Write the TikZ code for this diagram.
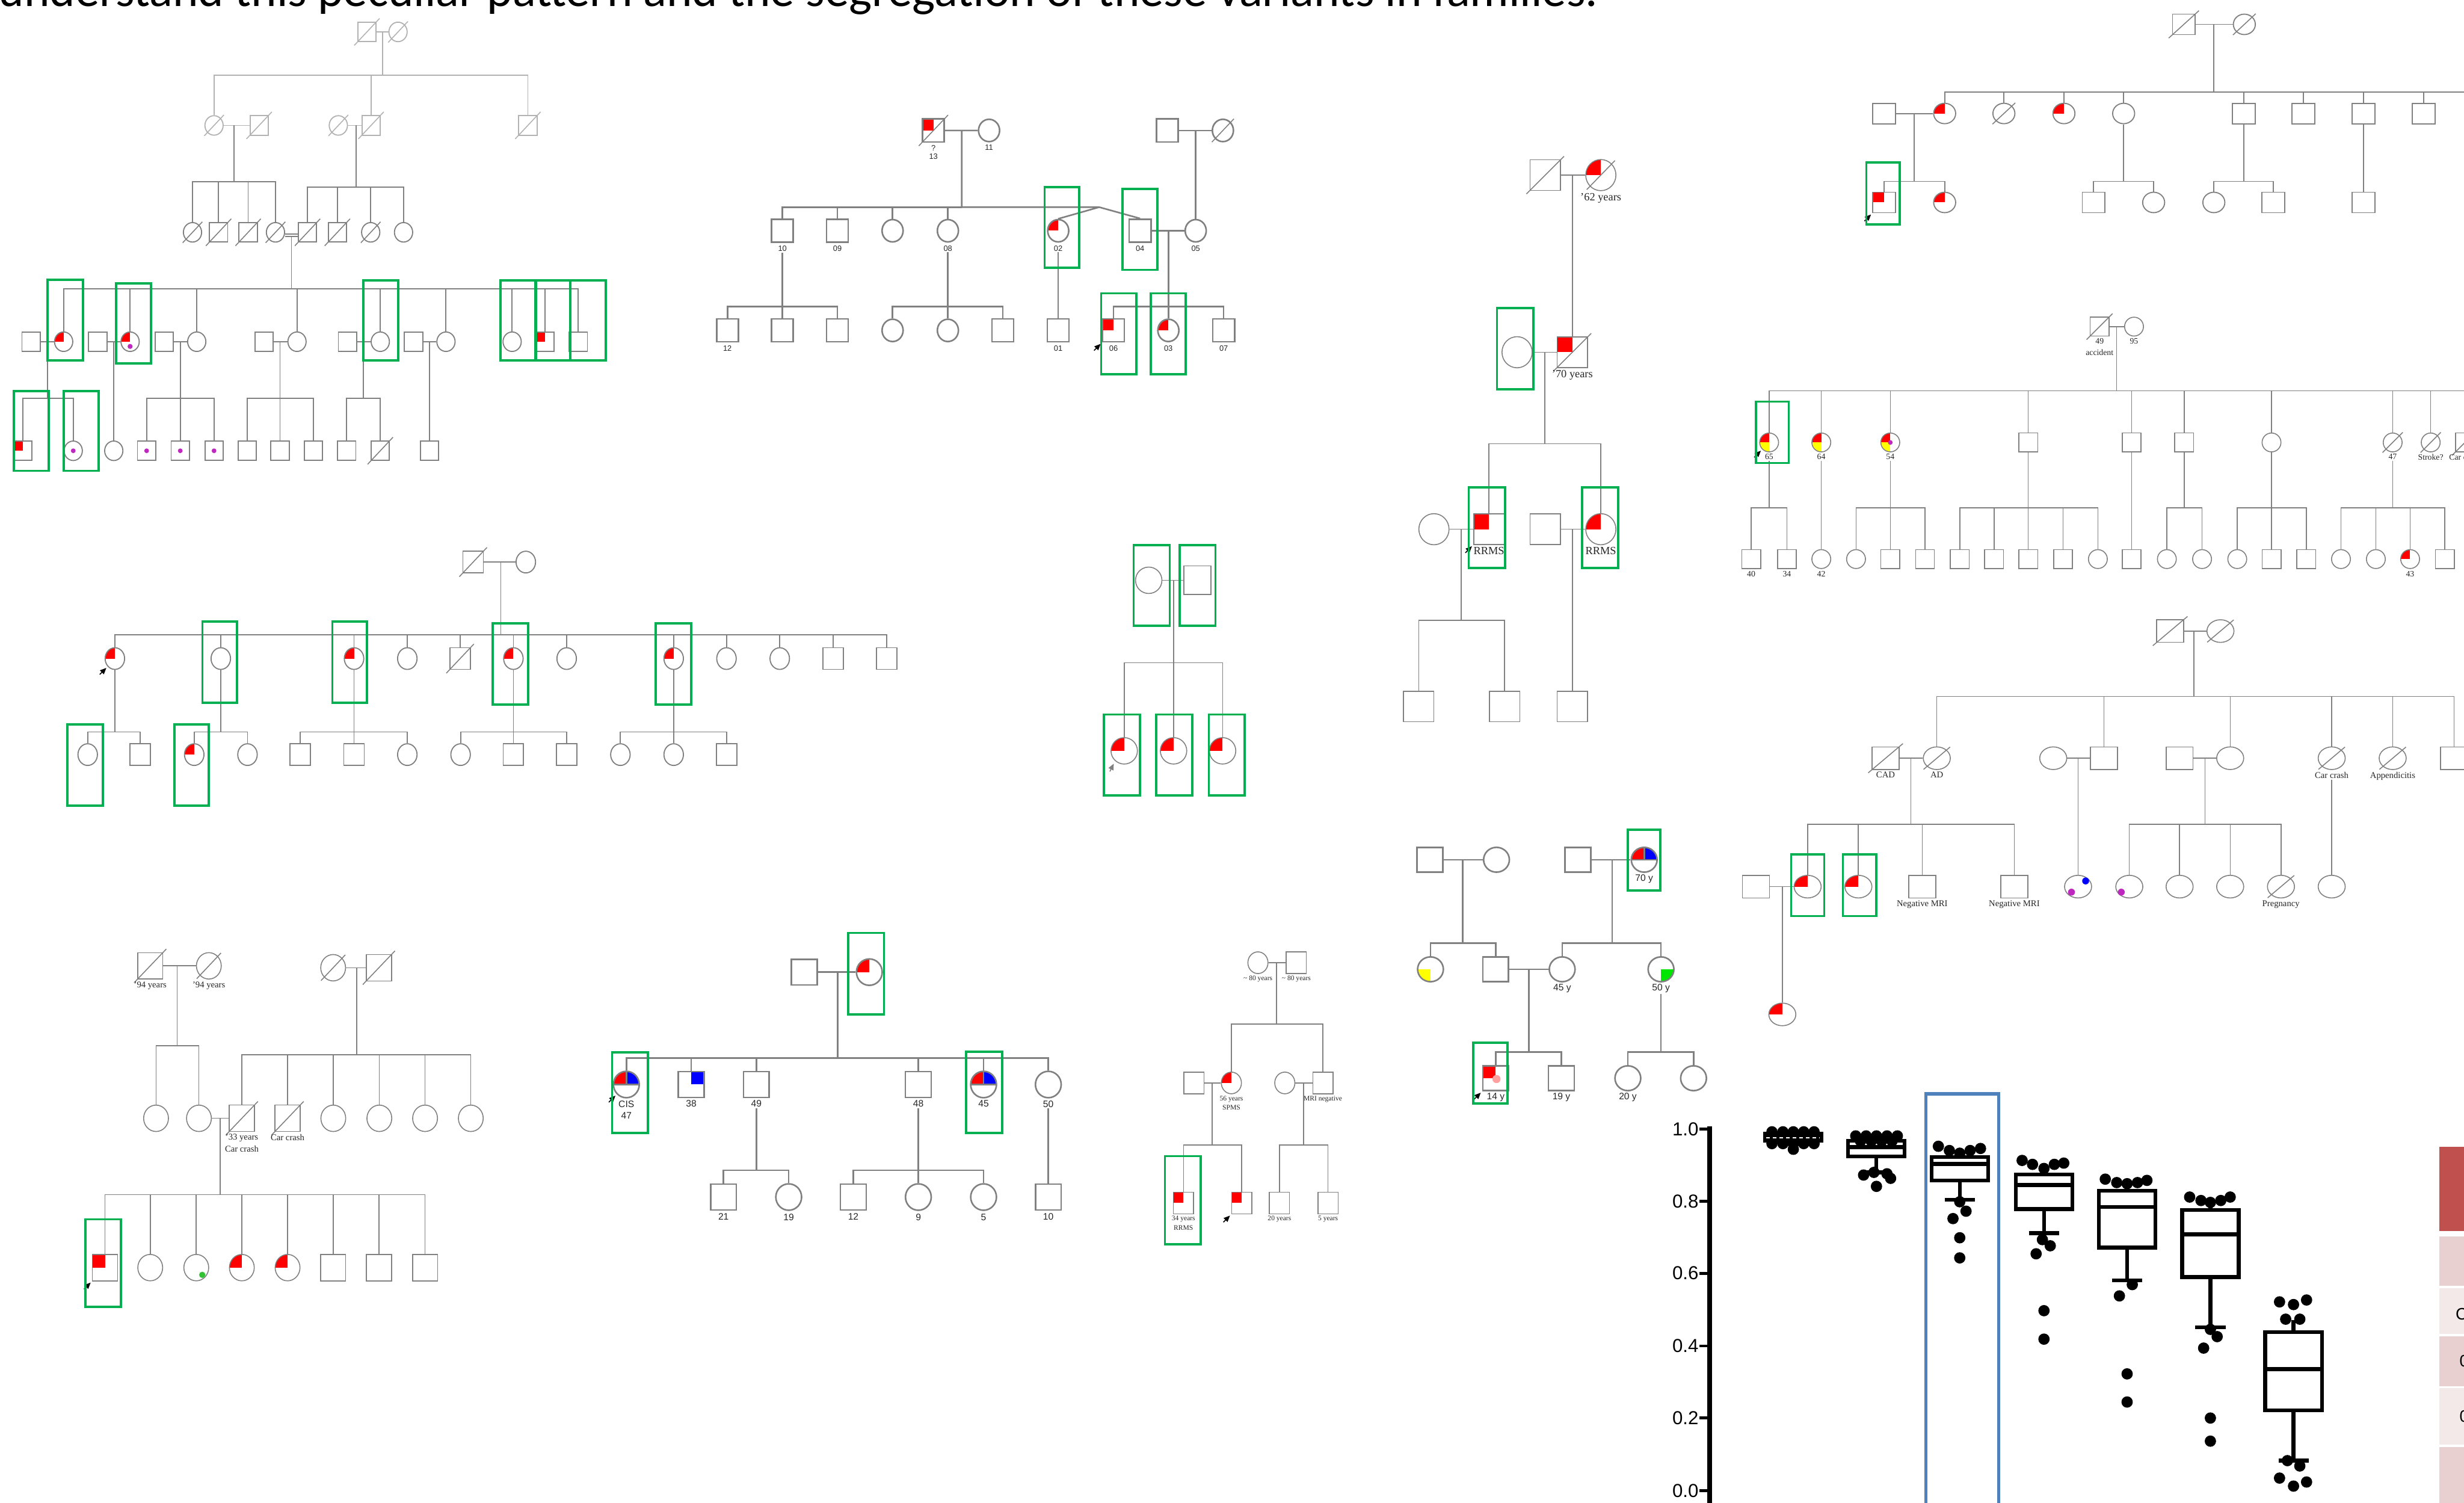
\documentclass[tikz,border=0pt]{standalone}
\usepackage{fontspec}
\setmainfont{Liberation Serif}
\setsansfont{Liberation Sans}
\newfontfamily\calibfont{Carlito}
\usetikzlibrary{shapes.geometric, arrows.meta, positioning, calc}
\definecolor{pedgray}{RGB}{128,128,128}
\definecolor{pedlight}{RGB}{178,178,178}
\definecolor{pedred}{RGB}{255,0,0}
\definecolor{pedblue}{RGB}{0,0,255}
\definecolor{pedyellow}{RGB}{255,255,0}
\definecolor{pedgreen}{RGB}{0,230,0}
\definecolor{pedmag}{RGB}{190,40,190}
\definecolor{pedpink}{RGB}{255,160,160}
\definecolor{boxgreen}{RGB}{0,176,80}
\definecolor{hlblue}{RGB}{79,129,189}
\definecolor{tabred}{RGB}{192,80,77}
\definecolor{tabpinka}{RGB}{232,208,208}
\definecolor{tabpinkb}{RGB}{243,233,233}
\tikzset{
    ped/.style={draw=pedgray, line width=0.35mm},
    pedthin/.style={ped, line width=0.3mm},
    pedt/.style={ped, line width=0.5mm},
    lt/.style={draw=pedlight},
    sym/.style={draw=pedgray, fill=white, line width=0.35mm, inner sep=0pt},
    m/.style={sym, rectangle, minimum width=#1, minimum height=#1},
    f/.style={sym, ellipse, minimum width=#1, minimum height=#1},
    dead/.style={append after command={(\tikzlastnode.south west) edge[draw=#1, line width=0.3mm, shorten <=-1.4mm, shorten >=-1.4mm] (\tikzlastnode.north east)}},
    dead/.default=pedgray,
    quads/.style n args={4}{path picture={
        \fill[#1] (path picture bounding box.center) rectangle (path picture bounding box.north west);
        \fill[#2] (path picture bounding box.center) rectangle (path picture bounding box.north east);
        \fill[#3] (path picture bounding box.center) rectangle (path picture bounding box.south west);
        \fill[#4] (path picture bounding box.center) rectangle (path picture bounding box.south east);}},
    tl/.style={quads={pedred}{white}{white}{white}},
    ry/.style={quads={pedred}{white}{pedyellow}{white}},
    yl/.style={quads={white}{white}{pedyellow}{white}},
    gbr/.style={quads={white}{white}{white}{pedgreen}},
    trb/.style={quads={white}{pedblue}{white}{white}},
    rb/.style={path picture={
        \fill[pedred] (path picture bounding box.center) rectangle (path picture bounding box.north west);
        \fill[pedblue] (path picture bounding box.center) rectangle (path picture bounding box.north east);
        \draw[pedgray, line width=0.5mm] (path picture bounding box.west) -- (path picture bounding box.east)
            (path picture bounding box.center) -- (path picture bounding box.north);}},
    % symbol sizes of each pedigree
    m1/.style={m=5.8mm, minimum height=6.2mm}, f1/.style={f=5.8mm, minimum height=6.2mm},
    m2/.style={m=6.9mm, minimum height=7.3mm, line width=0.5mm}, f2/.style={f=6.7mm, minimum height=7.1mm, line width=0.5mm},
    m3/.style={m=6.5mm, minimum height=6.9mm}, f3/.style={f=6.2mm, minimum height=6.9mm},
    m4/.style={m=8.6mm, minimum height=9.1mm, line width=0.3mm}, f4/.style={f=8.4mm, line width=0.3mm},
    m5/.style={m=9.7mm, line width=0.3mm}, f5/.style={f=9.6mm, minimum height=9.9mm, line width=0.3mm},
    m6/.style={m=7.2mm, minimum height=6.5mm}, f6/.style={f=7mm, minimum height=6.5mm},
    m7/.style={m=6mm, line width=0.3mm}, f7/.style={f=6mm, line width=0.3mm},
    m8/.style={m=8.6mm, minimum height=7.2mm, line width=0.3mm}, f8/.style={f=8.6mm, minimum height=7.2mm, line width=0.3mm},
    m9/.style={m=8mm, minimum height=8.4mm, line width=0.3mm}, f9/.style={f=7.9mm, minimum height=8.4mm, line width=0.3mm},
    m10/.style={m=8.2mm, line width=0.5mm}, f10/.style={f=8.2mm, minimum height=8.4mm, line width=0.5mm},
    m11/.style={m=6.4mm, minimum height=6.9mm, line width=0.3mm}, f11/.style={f=6.4mm, minimum height=6.9mm, line width=0.3mm},
    m12/.style={m=8.2mm, minimum height=7.9mm, line width=0.5mm}, f12/.style={f=8.2mm, minimum height=7.9mm, line width=0.5mm},
    % labels
    lbl/.style={inner sep=0.3mm, align=center, text=black!85},
    l2/.style={lbl, font=\sffamily\fontsize{7}{7.7}\selectfont},
    l5/.style={lbl, font=\fontsize{10}{11}\selectfont},
    l7/.style={lbl, font=\fontsize{7.5}{10}\selectfont},
    l8/.style={lbl, font=\fontsize{8}{9}\selectfont},
    l9/.style={lbl, font=\fontsize{8}{11}\selectfont},
    l10/.style={lbl, font=\sffamily\fontsize{8.5}{10.4}\selectfont},
    l11/.style={lbl, font=\fontsize{6.3}{8.5}\selectfont},
    l12/.style={lbl, font=\sffamily\fontsize{8.5}{9}\selectfont},
    gbox/.style={draw=boxgreen, line width=0.7mm},
    prob/.style={-{Triangle[length=2mm,width=1.7mm]}, line width=0.3mm, black},
    bp/.style={line width=1.2mm, black},
    bpaxis/.style={line width=1.5mm, black},
    ticklab/.style={inner sep=0pt, font=\sffamily\fontsize{17}{17}\selectfont}
}
\newcommand{\proband}[1]{\draw[prob] ($(#1.south west)+(-5,5)$) -- ($(#1.south west)+(-0.8,0.8)$);}

\begin{document}
\begin{tikzpicture}[x=0.5mm, y=-0.5mm]
    \useasboundingbox (0,0) rectangle (1568,956);

    \node[anchor=base west, inner sep=0pt, font=\calibfont\fontsize{44}{46}\selectfont] (title) at (-1,4.2)
        {understand this peculiar pattern and the segregation of these variants in families.};

    % ---------------- pedigree 1
    \node[m1, lt, dead=pedlight] (p1a) at (233.5,20.3) {};
    \node[f1, lt, dead=pedlight] (p1b) at (253.3,20.3) {};
    \coordinate (p1ab) at (243.4,20.3);
    \coordinate (p1sib1) at (243.4,47.7);
    \node[f1, lt, dead=pedlight] (p1c) at (136.2,79.8) {};
    \node[m1, lt, dead=pedlight] (p1d) at (164.9,79.8) {};
    \node[f1, lt, dead=pedlight] (p1e) at (215.3,79.8) {};
    \node[m1, lt, dead=pedlight] (p1f) at (236.1,79.8) {};
    \node[m1, lt, dead=pedlight] (p1g) at (335.9,79.8) {};
    \draw[ped, lt] (p1a) -- (p1b) (p1c) -- (p1d) (p1e) -- (p1f) (p1ab) -- (p1sib1);
    \foreach \n in {p1c,p1f,p1g} \draw[ped, lt] (p1sib1) -| (\n.north);
    \coordinate (p1cd) at (148.8,79.8);
    \coordinate (p1sib2) at (148.8,115.7);
    \coordinate (p1ef) at (226.5,79.8);
    \coordinate (p1sib3) at (226.5,118.9);
    \draw[ped] (p1cd) -- (p1sib2) (p1ef) -- (p1sib3);
    \node[f1, dead] (p1h) at (122.5,147.8) {};
    \node[m1, dead] (p1i) at (139.1,147.8) {};
    \node[m1, dead] (p1j) at (157.9,147.8) {};
    \node[f1, dead] (p1k) at (175.3,147.8) {};
    \node[m1, dead] (p1l) at (195.7,147.8) {};
    \node[m1, dead] (p1m) at (214.7,147.8) {};
    \node[f1, dead] (p1n) at (235.9,147.8) {};
    \node[f1] (p1o) at (256.8,147.8) {};
    \foreach \n in {p1h,p1i,p1j,p1k} \draw[ped] (p1sib2) -| (\n.north);
    \foreach \n in {p1l,p1m,p1n,p1o} \draw[ped] (p1sib3) -| (\n.north);
    \draw[ped] ([yshift=-0.5mm]p1k.east) -- ([yshift=-0.5mm]p1l.west)
        ([yshift=-1.3mm]p1k.east) -- ([yshift=-1.3mm]p1l.west);
    \coordinate (p1kl) at (185.5,150.5);
    \coordinate (p1sib4) at (185.5,183.7);
    \draw[ped] (p1kl) -- (p1sib4);
    \node[f1, tl] (p1p) at (40.5,217.4) {};
    \node[f1, tl] (p1q) at (82.8,217.4) {};
    \node[f1] (p1r) at (125.2,217.4) {};
    \node[f1] (p1s) at (189.0,217.4) {};
    \node[f1] (p1t) at (242.0,217.4) {};
    \node[f1] (p1u) at (283.8,217.4) {};
    \node[f1] (p1v) at (325.9,217.4) {};
    \node[m1, tl] (p1w) at (346.8,217.4) {};
    \node[m1] (p1x) at (368.0,217.4) {};
    \foreach \n in {p1p,p1q,p1r,p1s,p1t,p1u,p1v,p1w,p1x} \draw[ped] (p1sib4) -| (\n.north);
    \foreach \n/\x/\d in {p/19.8/30.3, q/62.2/72.4, r/104.5/114.7, s/168.0/178.2, t/221.1/231.3, u/263.2/273.4} {
        \node[m1] (mp1\n) at (\x,217.4) {};
        \draw[ped] (mp1\n) -- (p1\n);
        \coordinate (d1\n) at (\d,217.4);
        \coordinate (s1\n) at (\d,253.3);
    }
    \node[m1, tl] (p1z1) at (14.5,286.8) {};
    \node[f1] (p1z2) at (46.6,286.8) {};
    \node[f1] (p1z3) at (72.4,286.8) {};
    \node[m1] (p1z4) at (93.3,286.8) {};
    \node[m1] (p1z5) at (114.7,286.8) {};
    \node[m1] (p1z6) at (136.2,286.8) {};
    \node[m1] (p1z7) at (157.3,286.8) {};
    \node[m1] (p1z8) at (178.2,286.8) {};
    \node[m1] (p1z9) at (199.4,286.8) {};
    \node[m1] (p1z10) at (220.6,286.8) {};
    \node[m1, dead] (p1z11) at (242.0,286.8) {};
    \node[m1] (p1z12) at (273.4,286.8) {};
    \draw[ped] (d1p) -- (s1p) (d1r) -- (s1r) (d1s) -- (s1s) (d1t) -- (s1t) (d1q) -- (p1z3) (d1u) -- (p1z12);
    \foreach \n in {p1z1,p1z2} \draw[ped] (s1p) -| (\n.north);
    \foreach \n in {p1z4,p1z5,p1z6} \draw[ped] (s1r) -| (\n.north);
    \foreach \n in {p1z7,p1z8,p1z9} \draw[ped] (s1s) -| (\n.north);
    \foreach \n in {p1z10,p1z11} \draw[ped] (s1t) -| (\n.north);
    \foreach \n in {p1z2,p1z4,p1z5,p1z6} \fill[pedmag] (\n.center) circle (1.5);
    \fill[pedmag] ($(p1q.center)+(0,3)$) circle (1.6);

    % ---------------- pedigree 2
    \node[m2, dead, tl] (p2a) at (594.0,83.0) {};
    \node[f2] (p2b) at (629.4,83.0) {};
    \node[l2, below=0.4mm of p2a] (p2al) {?\\13};
    \node[l2, below=0.4mm of p2b] (p2bl) {11};
    \coordinate (p2ab) at (612.0,83.0);
    \coordinate (p2sib1) at (612.0,131.8);
    \coordinate (p2tw) at (699.5,131.8);
    \node[m2] (p2c) at (497.9,146.8) {};
    \node[m2] (p2d) at (532.9,146.8) {};
    \node[f2] (p2e) at (568.0,146.8) {};
    \node[f2] (p2f) at (603.2,146.8) {};
    \node[f2, tl] (p2g) at (673.4,146.8) {};
    \node[m2] (p2h) at (725.5,146.8) {};
    \node[f2] (p2i) at (760.9,146.8) {};
    \foreach \n/\t in {c/10, d/09, f/08, g/02, h/04, i/05}
        \node[l2, below=0.6mm of p2\n] (p2\n l) {\t};
    \draw[pedt] (p2a) -- (p2b) (p2ab) -- (p2sib1) -- (p2tw) (p2tw) -- (p2g.north) (p2tw) -- (p2h.north);
    \foreach \n in {p2c,p2d,p2e,p2f} \draw[pedt] (p2sib1) -| (\n.north);
    \node[m2] (p2j) at (742.8,83.0) {};
    \node[f2, dead] (p2k) at (778.2,83.0) {};
    \coordinate (p2jk) at (760.9,83.0);
    \coordinate (p2hi) at (743.5,146.8);
    \coordinate (p2sib2) at (743.5,195.0);
    \draw[pedt] (p2j) -- (p2k) (p2jk) -- (p2i) (p2h) -- (p2i) (p2hi) -- (p2sib2);
    \node[m2, tl] (p2l) at (708.6,210.2) {};
    \node[f2, tl] (p2m) at (743.5,210.2) {};
    \node[m2] (p2n) at (778.7,210.2) {};
    \foreach \n in {p2l,p2m,p2n} \draw[pedt] (p2sib2) -| (\n.north);
    \coordinate (p2sib3) at (497.9,195.0);
    \coordinate (p2sib4) at (603.2,195.0);
    \node[m2] (p2o) at (462.9,210.2) {};
    \node[m2] (p2p) at (497.9,210.2) {};
    \node[m2] (p2q) at (532.9,210.2) {};
    \node[f2] (p2r) at (568.0,210.2) {};
    \node[f2] (p2s) at (603.2,210.2) {};
    \node[m2] (p2t) at (638.2,210.2) {};
    \node[m2] (p2u) at (673.4,210.2) {};
    \draw[pedt] (p2cl) -- (p2sib3) (p2fl) -- (p2sib4) (p2gl) -- (p2u);
    \foreach \n in {p2o,p2p,p2q} \draw[pedt] (p2sib3) -| (\n.north);
    \foreach \n in {p2r,p2s,p2t} \draw[pedt] (p2sib4) -| (\n.north);
    \foreach \n/\t in {o/12, u/01, l/06, m/03, n/07}
        \node[l2, below=0.6mm of p2\n] (p2\n l) {\t};
    \proband{p2l}

    % ---------------- pedigree 3
    \node[m3, dead] (p3a) at (301.1,357.6) {};
    \node[f3] (p3b) at (334.6,357.6) {};
    \coordinate (p3ab) at (318.7,357.6);
    \coordinate (p3sib1) at (318.7,404.0);
    \draw[ped] (p3a) -- (p3b) (p3ab) -- (p3sib1);
    \node[f3, tl] (p3c) at (73.1,419) {};
    \node[f3] (p3d) at (140.5,419) {};
    \node[f3, tl] (p3e) at (225.3,419) {};
    \node[f3] (p3f) at (259.2,419) {};
    \node[m3, dead] (p3g) at (292.8,419) {};
    \node[f3, tl] (p3h) at (326.7,419) {};
    \node[f3] (p3i) at (360.6,419) {};
    \node[f3, tl] (p3j) at (428.7,419) {};
    \node[f3] (p3k) at (462.3,419) {};
    \node[f3] (p3l) at (496.2,419) {};
    \node[m3] (p3m) at (530.1,419) {};
    \node[m3] (p3n) at (564.4,419) {};
    \foreach \n in {p3c,p3d,p3e,p3f,p3g,p3h,p3i,p3j,p3k,p3l,p3m,p3n} \draw[ped] (p3sib1) -| (\n.north);
    \foreach \n/\x in {c/73.1, d/140.5, e/225.3, h/326.7, j/428.7} {
        \coordinate (p3s\n) at (\x,465.7);
        \draw[ped] (p3\n) -- (p3s\n);
    }
    \node[f3] (p3o) at (55.8,480.1) {};
    \node[m3] (p3p) at (89.3,480.1) {};
    \node[f3, tl] (p3q) at (123.6,480.1) {};
    \node[f3] (p3r) at (157.5,480.1) {};
    \node[m3] (p3s) at (191.0,480.1) {};
    \node[m3] (p3t) at (225.3,480.1) {};
    \node[f3] (p3u) at (259.2,480.1) {};
    \node[f3] (p3v) at (293.1,480.1) {};
    \node[m3] (p3w) at (326.7,480.1) {};
    \node[m3] (p3x) at (360.6,480.1) {};
    \node[f3] (p3y) at (394.8,480.1) {};
    \node[f3] (p3z) at (428.7,480.1) {};
    \node[m3] (p3zz) at (462.3,480.1) {};
    \foreach \n in {p3o,p3p} \draw[ped] (p3sc) -| (\n.north);
    \foreach \n in {p3q,p3r} \draw[ped] (p3sd) -| (\n.north);
    \foreach \n in {p3s,p3t,p3u} \draw[ped] (p3se) -| (\n.north);
    \foreach \n in {p3v,p3w,p3x} \draw[ped] (p3sh) -| (\n.north);
    \foreach \n in {p3y,p3z,p3zz} \draw[ped] (p3sj) -| (\n.north);
    \proband{p3c}

    % ---------------- pedigree 4
    \node[f4] (p4a) at (731.0,369.2) {};
    \node[m4] (p4b) at (762.0,369.2) {};
    \coordinate (p4ab) at (746.8,369.2);
    \coordinate (p4sib) at (746.8,421.7);
    \node[f4, tl] (p4c) at (715.4,477.7) {};
    \node[f4, tl] (p4d) at (746.8,477.7) {};
    \node[f4, tl] (p4e) at (778.0,477.7) {};
    \draw[pedthin] (p4a) -- (p4b) (p4ab) -- (p4sib);
    \foreach \n in {p4c,p4d,p4e} \draw[pedthin] (p4sib) -| (\n.north);
    \draw[prob, pedgray] ($(p4c.south west)+(-3,7)$) -- ($(p4c.south west)+(-0.5,2)$);

    % ---------------- pedigree 5
    \node[m5, dead] (p5a) at (983.3,111.4) {};
    \node[f5, dead, tl] (p5b) at (1018.7,111.4) {};
    \node[l5, below=0.3mm of p5b] (p5bl) {’62 years};
    \coordinate (p5ab) at (1000.6,111.4);
    \node[f5] (p5c) at (965.4,224.1) {};
    \node[m5, dead, tl] (p5d) at (1000.6,224.1) {};
    \node[l5, below=0.3mm of p5d] (p5dl) {’70 years};
    \coordinate (p5cd) at (983.0,224.1);
    \coordinate (p5sib1) at (983.0,282.4);
    \draw[pedthin] (p5a) -- (p5b) (p5ab) -- (p5d) (p5c) -- (p5d) (p5cd) -- (p5sib1);
    \node[m5, tl] (p5e) at (947.5,336.7) {};
    \node[f5, tl] (p5f) at (1018.7,336.7) {};
    \foreach \n in {p5e,p5f} \draw[pedthin] (p5sib1) -| (\n.north);
    \node[f5] (p5g) at (912.5,336.7) {};
    \node[m5] (p5h) at (983.3,336.7) {};
    \node[l5, below=0.3mm of p5e] (p5el) {RRMS};
    \node[l5, below=0.3mm of p5f] (p5fl) {RRMS};
    \coordinate (p5ge) at (929.9,336.7);
    \coordinate (p5sib2) at (929.9,394.6);
    \coordinate (p5hf) at (1000.6,336.7);
    \node[m5] (p5i) at (902.8,449.5) {};
    \node[m5] (p5j) at (957.5,449.5) {};
    \node[m5] (p5k) at (1000.6,449.5) {};
    \draw[pedthin] (p5g) -- (p5e) (p5ge) -- (p5sib2) (p5h) -- (p5f) (p5hf) -- (p5k);
    \foreach \n in {p5i,p5j} \draw[pedthin] (p5sib2) -| (\n.north);
    \proband{p5e}

    % ---------------- pedigree 6
    \node[m6, dead] (p6a) at (1389.7,15.5) {};
    \node[f6, dead] (p6b) at (1428.2,15.5) {};
    \coordinate (p6ab) at (1408.8,15.5);
    \coordinate (p6sib1) at (1408.8,58.7);
    \coordinate (p6end) at (1575,58.7);
    \draw[ped] (p6a) -- (p6b) (p6ab) -- (p6sib1) -- (p6end);
    \node[f6, tl] (p6c) at (1237.5,72.2) {};
    \node[f6, dead] (p6d) at (1275.2,72.2) {};
    \node[f6, tl] (p6e) at (1313.4,72.2) {};
    \node[f6] (p6f) at (1351.4,72.2) {};
    \node[m6] (p6g) at (1427.9,72.2) {};
    \node[m6] (p6h) at (1465.8,72.2) {};
    \node[m6] (p6i) at (1504.1,72.2) {};
    \node[m6] (p6j) at (1542.3,72.2) {};
    \foreach \n in {p6c,p6d,p6e,p6f,p6g,p6h,p6i,p6j} \draw[ped] (p6sib1) -| (\n.north);
    \node[m6] (p6k) at (1199.0,72.2) {};
    \coordinate (p6kc) at (1218.1,72.2);
    \coordinate (p6sib2) at (1218.1,115.4);
    \coordinate (p6sib3) at (1351.4,115.4);
    \coordinate (p6sib4) at (1427.9,115.4);
    \draw[ped] (p6k) -- (p6c) (p6kc) -- (p6sib2) (p6f) -- (p6sib3) (p6g) -- (p6sib4);
    \node[m6, tl] (p6l) at (1199.0,128.8) {};
    \node[f6, tl] (p6m) at (1237.5,128.8) {};
    \node[m6] (p6n) at (1332.3,128.8) {};
    \node[f6] (p6o) at (1370.5,128.8) {};
    \node[f6] (p6p) at (1408.8,128.8) {};
    \node[m6] (p6q) at (1446.7,128.8) {};
    \node[m6] (p6r) at (1504.1,128.8) {};
    \foreach \n in {p6l,p6m} \draw[ped] (p6sib2) -| (\n.north);
    \foreach \n in {p6n,p6o} \draw[ped] (p6sib3) -| (\n.north);
    \foreach \n in {p6p,p6q} \draw[ped] (p6sib4) -| (\n.north);
    \draw[ped] (p6i) -- (p6r);
    \proband{p6l}

    % ---------------- pedigree 7
    \node[m7, dead] (p7a) at (1336.1,207.8) {};
    \node[f7] (p7b) at (1358.0,207.8) {};
    \node[l7, below=0.3mm of p7a] (p7al) {49\\accident};
    \node[l7, below=0.3mm of p7b] (p7bl) {95};
    \coordinate (p7mid) at (1346.9,207.8);
    \coordinate (p7sib1) at (1346.9,248.7);
    \coordinate (p7end) at (1575,248.7);
    \draw[pedthin] (p7a) -- (p7b) (p7mid) -- (p7sib1) (p7end) -- (p7sib1);
    \node[f7, ry] (p7c) at (1125.8,281.5) {};
    \node[f7, ry] (p7d) at (1159.0,281.5) {};
    \node[f7, ry] (p7e) at (1202.9,281.5) {};
    \node[m7] (p7f) at (1290.7,281.5) {};
    \node[m7] (p7g) at (1356.5,281.5) {};
    \node[m7] (p7h) at (1389.9,281.5) {};
    \node[f7] (p7i) at (1445.5,281.5) {};
    \node[f7, dead] (p7j) at (1522.6,281.5) {};
    \node[f7, dead] (p7k) at (1546.8,281.5) {};
    \node[m7, dead] (p7l) at (1568.6,281.5) {};
    \fill[pedmag] (p7e.center) circle (1.5);
    \foreach \n in {p7c,p7d,p7e,p7f,p7g,p7h,p7i,p7j,p7k,p7l} \draw[pedthin] (p7sib1) -| (\n.north);
    \foreach \n/\t in {c/65, d/64, e/54, j/47, k/Stroke?, l/Car crash}
        \node[l7, below=0.2mm of p7\n] (p7\n l) {\t};
    \foreach \n/\x in {c/1125.8, e/1202.9, f/1290.7, h/1389.9, i/1445.5, j/1522.6}
        \coordinate (p7s\n) at (\x,323.0);
    \draw[pedthin] (p7cl) -- (p7sc) (p7el) -- (p7se) (p7f) -- (p7sf) (p7h) -- (p7sh) (p7i) -- (p7si) (p7jl) -- (p7sj);
    \node[m7] (p7m) at (1114.4,355.7) {};
    \node[m7] (p7n) at (1137.1,355.7) {};
    \node[f7] (p7o) at (1159.0,355.7) {};
    \node[f7] (p7p) at (1181.1,355.7) {};
    \node[m7] (p7q) at (1202.9,355.7) {};
    \node[m7] (p7r) at (1225.0,355.7) {};
    \node[m7] (p7s) at (1247.1,355.7) {};
    \node[m7] (p7t) at (1268.9,355.7) {};
    \node[m7] (p7u) at (1290.7,355.7) {};
    \node[m7] (p7v) at (1312.8,355.7) {};
    \node[f7] (p7w) at (1335.0,355.7) {};
    \node[m7] (p7x) at (1356.5,355.7) {};
    \node[f7] (p7y) at (1378.9,355.7) {};
    \node[f7] (p7z) at (1401.3,355.7) {};
    \node[f7] (p7aa) at (1423.7,355.7) {};
    \node[m7] (p7ab) at (1445.5,355.7) {};
    \node[m7] (p7ac) at (1467.6,355.7) {};
    \node[f7] (p7ad) at (1489.7,355.7) {};
    \node[f7] (p7ae) at (1511.9,355.7) {};
    \node[f7, tl] (p7af) at (1533.7,355.7) {};
    \node[m7] (p7ag) at (1555.8,355.7) {};
    \draw[pedthin] (p7dl) -- (p7o) (p7g) -- (p7x);
    \foreach \n in {p7m,p7n} \draw[pedthin] (p7sc) -| (\n.north);
    \foreach \n in {p7p,p7q,p7r} \draw[pedthin] (p7se) -| (\n.north);
    \foreach \n in {p7s,p7t,p7u,p7v,p7w} \draw[pedthin] (p7sf) -| (\n.north);
    \foreach \n in {p7y,p7z} \draw[pedthin] (p7sh) -| (\n.north);
    \foreach \n in {p7aa,p7ab,p7ac} \draw[pedthin] (p7si) -| (\n.north);
    \foreach \n in {p7ad,p7ae,p7af,p7ag} \draw[pedthin] (p7sj) -| (\n.north);
    \foreach \n/\t in {m/40, n/34, o/42, af/43}
        \node[l7, below=0.3mm of p7\n] (p7\n l) {\t};
    \proband{p7c}

    % ---------------- pedigree 8
    \node[m8, dead] (p8a) at (1381.0,401.5) {};
    \node[f8, dead] (p8b) at (1413.0,401.5) {};
    \coordinate (p8mid) at (1396.2,401.5);
    \coordinate (p8sib1) at (1396.2,443.1);
    \draw[pedthin] (p8a) -- (p8b) (p8mid) -- (p8sib1);
    \node[m8, dead] (p8c) at (1199.9,482.4) {};
    \node[f8, dead] (p8d) at (1232.5,482.4) {};
    \node[f8] (p8e) at (1306.6,482.4) {};
    \node[m8] (p8f) at (1338.9,482.4) {};
    \node[m8] (p8g) at (1387.0,482.4) {};
    \node[f8] (p8h) at (1419.2,482.4) {};
    \node[f8, dead] (p8i) at (1483.8,482.4) {};
    \node[f8, dead] (p8j) at (1522.6,482.4) {};
    \node[m8] (p8k) at (1561.7,482.4) {};
    \foreach \n in {p8d,p8f,p8h,p8i,p8j,p8k} \draw[pedthin] (p8sib1) -| (\n.north);
    \foreach \n/\t in {c/CAD, d/AD, i/Car crash, j/Appendicitis}
        \node[l8, below=0.3mm of p8\n] (p8\n l) {\t};
    \coordinate (p8cd) at (1216.0,482.4);
    \coordinate (p8sib2) at (1216.0,524.4);
    \coordinate (p8ef) at (1322.4,482.4);
    \coordinate (p8gh) at (1403.1,482.4);
    \coordinate (p8sib3) at (1403.1,524.4);
    \draw[pedthin] (p8c) -- (p8d) (p8e) -- (p8f) (p8g) -- (p8h) (p8cd) -- (p8sib2) (p8gh) -- (p8sib3);
    \node[f8, tl] (p8l) at (1150.3,564.1) {};
    \node[f8, tl] (p8m) at (1182.6,564.1) {};
    \node[m8] (p8n) at (1223.2,564.1) {};
    \node[m8] (p8o) at (1281.8,564.1) {};
    \foreach \n in {p8l,p8m,p8n,p8o} \draw[pedthin] (p8sib2) -| (\n.north);
    \node[l8, below=0.3mm of p8n] (p8nl) {Negative MRI};
    \node[l8, below=0.3mm of p8o] (p8ol) {Negative MRI};
    \node[m8] (p8p) at (1117.4,564.1) {};
    \coordinate (p8pl) at (1134.2,564.1);
    \node[f8, tl] (p8q) at (1134.2,645.4) {};
    \node[f8] (p8r) at (1322.4,564.1) {};
    \node[f8] (p8s) at (1355.0,564.1) {};
    \node[f8] (p8t) at (1387.0,564.1) {};
    \node[f8] (p8u) at (1419.2,564.1) {};
    \node[f8, dead] (p8v) at (1451.5,564.1) {};
    \node[f8] (p8w) at (1483.8,564.1) {};
    \node[l8, below=0.3mm of p8v] (p8vl) {Pregnancy};
    \draw[pedthin] (p8p) -- (p8l) (p8pl) -- (p8q) (p8ef) -- (p8r) (p8il) -- (p8w);
    \foreach \n in {p8s,p8t,p8u,p8v} \draw[pedthin] (p8sib3) -| (\n.north);
    \fill[pedblue] ($(p8r.center)+(4.8,-3.6)$) circle (2.2);
    \fill[pedmag] ($(p8r.center)+(-4.2,3.5)$) circle (2.2);
    \fill[pedmag] ($(p8s.center)+(-5.1,3.5)$) circle (2.2);

    % ---------------- pedigree 9
    \node[m9, dead] (p9a) at (95.6,614.5) {};
    \node[f9, dead] (p9b) at (132.9,614.5) {};
    \node[l9, below=0.3mm of p9a] (p9al) {’94 years};
    \node[l9, below=0.3mm of p9b] (p9bl) {’94 years};
    \coordinate (p9ab) at (112.7,614.5);
    \coordinate (p9sib1) at (112.7,665.3);
    \node[f9] (p9c) at (99.3,711.5) {};
    \node[f9] (p9d) at (126.6,711.5) {};
    \node[f9, dead] (p9e) at (212.0,615.7) {};
    \node[m9, dead] (p9f) at (241.1,615.7) {};
    \coordinate (p9ef) at (226.9,615.7);
    \coordinate (p9sib2) at (226.9,671.0);
    \draw[pedthin] (p9a) -- (p9b) (p9ab) -- (p9sib1) (p9e) -- (p9f) (p9ef) -- (p9sib2);
    \foreach \n in {p9c,p9d} \draw[pedthin] (p9sib1) -| (\n.north);
    \node[m9, dead] (p9g) at (153.9,711.5) {};
    \node[m9, dead] (p9h) at (183.0,711.5) {};
    \node[f9] (p9i) at (212.1,711.5) {};
    \node[f9] (p9j) at (241.4,711.5) {};
    \node[f9] (p9k) at (270.5,711.5) {};
    \node[f9] (p9l) at (299.6,711.5) {};
    \foreach \n in {p9g,p9h,p9i,p9j,p9k,p9l} \draw[pedthin] (p9sib2) -| (\n.north);
    \node[l9, below=0.3mm of p9g] (p9gl) {’33 years\\Car crash};
    \node[l9, below=0.3mm of p9h] (p9hl) {Car crash};
    \coordinate (p9dg) at (140.2,711.5);
    \coordinate (p9sib3) at (140.2,760.1);
    \draw[pedthin] (p9d) -- (p9g) (p9dg) -- (p9sib3);
    \node[m9, tl] (p9m) at (66.8,806.5) {};
    \node[f9] (p9n) at (95.6,806.5) {};
    \node[f9] (p9o) at (124.9,806.5) {};
    \node[f9, tl] (p9p) at (153.9,806.5) {};
    \node[f9, tl] (p9q) at (183.0,806.5) {};
    \node[m9] (p9r) at (212.0,806.5) {};
    \node[m9] (p9s) at (241.1,806.5) {};
    \node[m9] (p9t) at (270.5,806.5) {};
    \foreach \n in {p9m,p9n,p9o,p9p,p9q,p9r,p9s,p9t} \draw[pedthin] (p9sib3) -| (\n.north);
    \fill[green!70!black!80] ($(p9o.center)+(3.8,4.6)$) circle (2);
    \proband{p9m}

    % ---------------- pedigree 10
    \node[m10] (p10a) at (511.9,618.5) {};
    \node[f10, tl] (p10b) at (553.2,618.5) {};
    \coordinate (p10ab) at (533.1,618.5);
    \coordinate (p10sib1) at (533.1,673.1);
    \draw[pedt] (p10a) -- (p10b) (p10ab) -- (p10sib1);
    \node[f10, rb] (p10c) at (398.6,690) {};
    \node[m10, trb] (p10d) at (439.9,690) {};
    \node[m10] (p10e) at (481.3,690) {};
    \node[m10] (p10f) at (584.4,690) {};
    \node[f10, rb] (p10g) at (625.9,690) {};
    \node[f10] (p10h) at (667.1,690) {};
    \foreach \n in {p10c,p10d,p10e,p10f,p10g,p10h} \draw[pedt] (p10sib1) -| (\n.north);
    \foreach \n/\t in {c/{CIS\\47}, d/38, e/49, f/48, g/45, h/50}
        \node[l10, below=0.3mm of p10\n] (p10\n l) {\t};
    \coordinate (p10sib2) at (481.3,744.5);
    \coordinate (p10sib3) at (584.4,744.5);
    \node[m10] (p10i) at (460.4,761.6) {};
    \node[f10] (p10j) at (501.9,761.6) {};
    \node[m10] (p10k) at (543.0,761.6) {};
    \node[f10] (p10l) at (584.4,761.6) {};
    \node[f10] (p10m) at (625.9,761.6) {};
    \node[m10] (p10n) at (667.1,761.6) {};
    \draw[pedt] (p10el) -- (p10sib2) (p10fl) -- (p10sib3) (p10hl) -- (p10n);
    \foreach \n in {p10i,p10j} \draw[pedt] (p10sib2) -| (\n.north);
    \foreach \n in {p10k,p10l,p10m} \draw[pedt] (p10sib3) -| (\n.north);
    \foreach \n/\t in {i/21, j/19, k/12, l/9, m/5, n/10}
        \node[l10, below=0.5mm of p10\n] (p10\n l) {\t};
    \proband{p10c}

    % ---------------- pedigree 11
    \node[f11] (p11a) at (800.5,612.5) {};
    \node[m11] (p11b) at (824.9,612.5) {};
    \node[l11, below=0.2mm of p11a] (p11al) {\textasciitilde\ 80 years};
    \node[l11, below=0.2mm of p11b] (p11bl) {\textasciitilde\ 80 years};
    \coordinate (p11ab) at (812.4,612.5);
    \coordinate (p11sib1) at (812.4,651.6);
    \node[f11, tl] (p11c) at (783.6,689.0) {};
    \node[m11] (p11d) at (841.8,689.0) {};
    \node[m11] (p11e) at (759.8,689.0) {};
    \node[f11] (p11f) at (817.6,689.0) {};
    \node[l11, below=0.2mm of p11c] (p11cl) {56 years\\SPMS};
    \node[l11, below=0.2mm of p11d] (p11dl) {MRI negative};
    \coordinate (p11ec) at (771.3,689.0);
    \coordinate (p11sib2) at (771.3,728.5);
    \coordinate (p11fd) at (829.6,689.0);
    \coordinate (p11sib3) at (829.6,728.5);
    \draw[pedthin] (p11a) -- (p11b) (p11ab) -- (p11sib1) (p11e) -- (p11c) (p11f) -- (p11d)
        (p11ec) -- (p11sib2) (p11fd) -- (p11sib3);
    \foreach \n in {p11c,p11d} \draw[pedthin] (p11sib1) -| (\n.north);
    \node[m11, tl] (p11g) at (753.1,765.4) {};
    \node[m11, tl] (p11h) at (790.2,765.4) {};
    \node[m11] (p11i) at (814.2,765.4) {};
    \node[m11] (p11j) at (845.1,765.4) {};
    \foreach \n in {p11g,p11h} \draw[pedthin] (p11sib2) -| (\n.north);
    \foreach \n in {p11i,p11j} \draw[pedthin] (p11sib3) -| (\n.north);
    \foreach \n/\t in {g/{34 years\\RRMS}, i/20 years, j/5 years}
        \node[l11, below=0.2mm of p11\n] (p11\n l) {\t};
    \proband{p11h}

    % ---------------- pedigree 12
    \node[m12] (p12a) at (909.9,547.0) {};
    \node[f12] (p12b) at (952.3,547.0) {};
    \node[m12] (p12c) at (1004.1,547.0) {};
    \node[f12, rb] (p12d) at (1046.3,547.0) {};
    \node[l12, below=0.2mm of p12d] (p12dl) {70 y};
    \coordinate (p12ab) at (930.7,547.0);
    \coordinate (p12sib1) at (930.7,600.1);
    \coordinate (p12cd) at (1025.9,547.0);
    \coordinate (p12sib2) at (1025.9,600.1);
    \draw[pedt] (p12a) -- (p12b) (p12c) -- (p12d) (p12ab) -- (p12sib1) (p12cd) -- (p12sib2);
    \node[f12, yl] (p12e) at (910.3,616.7) {};
    \node[m12] (p12f) at (951.8,616.7) {};
    \node[f12] (p12g) at (994.1,616.7) {};
    \node[f12, gbr] (p12h) at (1057.0,616.7) {};
    \foreach \n in {p12e,p12f} \draw[pedt] (p12sib1) -| (\n.north);
    \foreach \n in {p12g,p12h} \draw[pedt] (p12sib2) -| (\n.north);
    \node[l12, below=0.2mm of p12g] (p12gl) {45 y};
    \node[l12, below=0.2mm of p12h] (p12hl) {50 y};
    \coordinate (p12fg) at (973.0,616.7);
    \coordinate (p12sib3) at (973.0,669.4);
    \coordinate (p12sib4) at (1057.0,669.4);
    \draw[pedt] (p12f) -- (p12g) (p12fg) -- (p12sib3) (p12hl) -- (p12sib4);
    \node[m12, tl] (p12i) at (951.8,686.0) {};
    \node[m12] (p12j) at (993.6,686.0) {};
    \node[f12] (p12k) at (1035.9,686.0) {};
    \node[f12] (p12l) at (1077.7,686.0) {};
    \fill[pedpink] ($(p12i.center)+(0.5,0.5)$) circle (2.6);
    \foreach \n in {p12i,p12j} \draw[pedt] (p12sib3) -| (\n.north);
    \foreach \n in {p12k,p12l} \draw[pedt] (p12sib4) -| (\n.north);
    \foreach \n/\t in {i/14 y, j/19 y, k/20 y}
        \node[l12, below=0.2mm of p12\n] (p12\n l) {\t};
    \proband{p12i}

    % ---------------- green frames
    \foreach \xa/\ya/\xb/\yb in {30.3/178.0/52.8/229.2, 74.0/180.3/96.0/231.2, 231.1/178.4/253.3/229.2,
        318.5/178.4/340.5/229.2, 341.0/178.4/363.0/229.2, 363.0/178.4/385.5/229.2, 8.8/248.9/31.1/299.6,
        40.5/248.9/62.7/299.6, 664.8/119.0/686.8/170.4, 714.3/120.2/736.6/171.7, 700.7/186.6/723.1/238.2,
        732.4/186.6/754.4/238.2, 128.8/395.4/150.9/447.1, 211.5/395.4/233.6/447.1, 313.5/396.7/336.0/448.3,
        417.3/396.7/439.8/448.3, 43.0/461.0/65.5/512.7, 111.1/461.0/132.9/512.7, 721.4/346.8/744.4/398.1,
        750.8/346.8/773.5/398.1, 702.5/454.6/725.5/506.1, 735.8/454.6/758.8/506.1, 769.2/454.6/792.0/506.1,
        952.6/196.0/975.7/247.7, 934.6/310.1/957.7/361.4, 1006.7/310.1/1029.7/361.4, 1187.6/103.3/1208.9/142.8,
        1117.4/255.5/1138.3/294.6, 1139.8/543.5/1160.8/582.8, 1172.7/543.5/1193.9/582.8, 54.3/775.8/77.0/831.5,
        539.7/593.5/562.5/645.4, 389.5/669.5/412.3/720.8, 614.8/669.2/637.7/720.8, 741.3/735.5/764.2/791.7,
        1035.9/527.9/1056.5/566.6, 937.6/663.3/959.2/702.0}
        \draw[gbox] (\xa,\ya) rectangle (\xb,\yb);

    % ---------------- box plot
    \draw[hlblue, line width=1.1mm] (1225.6,970) -- (1225.6,695.8) -- (1271.9,695.8) -- (1271.9,970);
    \draw[bpaxis] (1087.9,716.5) -- (1087.9,965);
    \foreach \v/\yy/\i in {1.0/718.4/a, 0.8/764.3/b, 0.6/810.1/c, 0.4/856.3/d, 0.2/902.2/e, 0.0/948.5/f} {
        \draw[line width=0.9mm] (1081.5,\yy) -- (1087.9,\yy);
        \node[ticklab, anchor=east] (tk\i) at (1081,\yy) {\v};
    }
    \foreach \xc/\hi/\top/\med/\bot/\lo in {1141.2/721.3/721.3/723.6/725.9/725.9, 1194.1/725.9/725.9/729.8/735.7/745.9,
        1247.1/733/736.1/740.5/751.0/763.3, 1300.7/742/747.3/753.9/769.2/784.6, 1353.6/752/757.5/768.0/793.8/814.7,
        1406.6/764/769.7/785.3/812.5/844.4, 1459.5/840/847.5/871.1/897.4/929.3} {
        \draw[bp] (\xc-18,\top) rectangle (\xc+18,\bot);
        \draw[bp] (\xc-18,\med) -- (\xc+18,\med);
        \draw[bp] (\xc,\bot) -- (\xc,\lo) (\xc-9.6,\lo) -- (\xc+9.6,\lo) (\xc,\top) -- (\xc,\hi);
    }
    \foreach \p in {(1127.6,720.1),(1134.6,720.1),(1141.2,720.1),(1147.8,720.1),(1154.4,720.1),
        (1127.6,727.6),(1134.6,727.6),(1141.2,727.6),(1147.8,727.6),(1154.4,727.6),(1141.2,731.2),
        (1180.9,722.7),(1187.5,722.7),(1194.1,722.7),(1200.8,722.7),(1207.4,722.7),
        (1184,726),(1190.8,726),(1197.4,726),(1204,726),
        (1185.9,747.6),(1192.5,745.9),(1200.8,746.8),(1203.1,749.7),(1194.1,754.8),
        (1233.5,729.3),(1240.5,732.0),(1247.1,733.7),(1253.7,732.0),(1260.3,730.7),
        (1247.1,764.6),(1251.1,770.6),(1242.8,775.3),(1247.1,787.5),(1247.1,800.3),
        (1286.8,738.3),(1293.4,740.8),(1300.7,743.4),(1307.3,740.8),(1313.3,740.0),
        (1299.7,788.7),(1304.7,792.6),(1295.7,797.7),(1300.7,833.9),(1300.7,852.0),
        (1339.7,750.2),(1347.0,752.4),(1353.6,753.1),(1360.2,752.4),(1366.2,751.0),
        (1356.9,817.3),(1348.7,824.5),(1353.6,874.1),(1353.6,892.0),
        (1393.4,761.6),(1400.6,763.8),(1406.6,765.0),(1413.2,763.8),(1419.2,761.6),
        (1406.6,845.8),(1410.9,850.4),(1402.3,857.7),(1406.6,902.2),(1406.6,916.9),
        (1450.6,828.3),(1459.5,830.0),(1467.8,827.1),(1454.5,839.3),(1463.5,839.3),
        (1455.6,929.3),(1463.5,932.7),(1450.6,940.4),(1459.5,945.5),(1467.8,942.9)}
        \fill \p circle (3.6);
    \draw[white, line width=0.4mm, dashed] (1124,723.8) -- (1158,723.8);

    % ---------------- table edge
    \fill[tabred] (1552.2,729.8) rectangle (1572,783.3);
    \fill[tabpinka] (1552.2,786.7) rectangle (1572,818.1);
    \fill[tabpinkb] (1552.2,819.6) rectangle (1572,848.7);
    \fill[tabpinka] (1552.2,850.3) rectangle (1572,881.8);
    \fill[tabpinkb] (1552.2,883.2) rectangle (1572,919.1);
    \fill[tabpinka] (1552.2,920.7) rectangle (1572,960);
    \node[anchor=west, inner sep=0pt, font=\sffamily\fontsize{15}{15}\selectfont] (tc1) at (1562.5,835.9) {C};
    \node[anchor=west, inner sep=0pt, font=\sffamily\fontsize{15}{15}\selectfont] (tc2) at (1565,866) {0};
    \node[anchor=west, inner sep=0pt, font=\sffamily\fontsize{15}{15}\selectfont] (tc3) at (1565,901) {0};
\end{tikzpicture}
\end{document}
